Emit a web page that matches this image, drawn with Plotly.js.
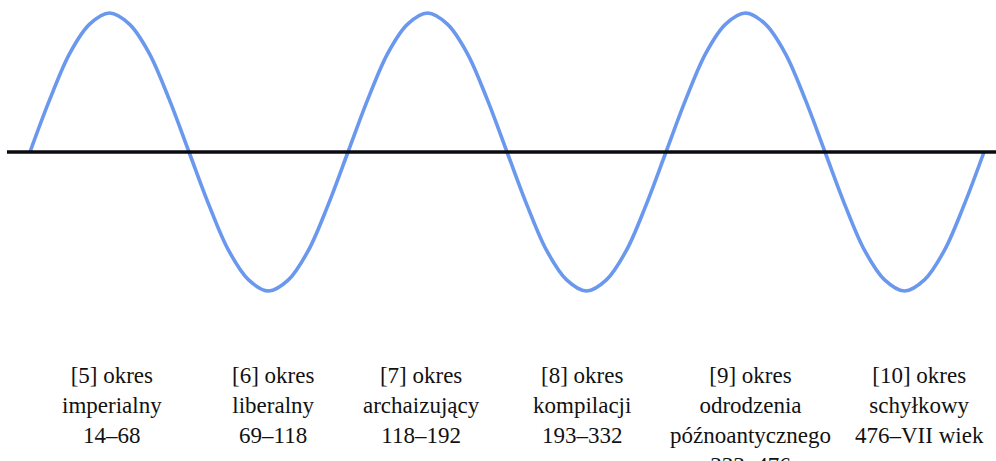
<!DOCTYPE html>
<html>
<head>
<meta charset="utf-8">
<script src="https://cdn.plot.ly/plotly-3.0.1.min.js"></script>
<style>
html,body{margin:0;padding:0;background:#fff;}
#chart{width:996px;height:461px;}
#chart .annotation-text, #chart .annotation-text tspan{font-family:'Liberation Serif' !important;}
</style>
</head>
<body>
<div id="chart"></div>
<script>
// wave sampled every sixteenth of a period (x in quarter-periods)
const waveX = [0,0.25,0.5,0.75,1,1.25,1.5,1.75,2,2.25,2.5,2.75,3,3.25,3.5,3.75,
               4,4.25,4.5,4.75,5,5.25,5.5,5.75,6,6.25,6.5,6.75,7,7.25,7.5,7.75,
               8,8.25,8.5,8.75,9,9.25,9.5,9.75,10,10.25,10.5,10.75,11,11.25,11.5,11.75,12];
const waveY = [0,0.38,0.71,0.92,1,0.92,0.71,0.38,0,-0.38,-0.71,-0.92,-1,-0.92,-0.71,-0.38,
               0,0.38,0.71,0.92,1,0.92,0.71,0.38,0,-0.38,-0.71,-0.92,-1,-0.92,-0.71,-0.38,
               0,0.38,0.71,0.92,1,0.92,0.71,0.38,0,-0.38,-0.71,-0.92,-1,-0.92,-0.71,-0.38,0];
// horizontal base line
const baseX = [-0.29, 12.2];
const baseY = [0, 0];
// period labels
const labelX = [1.03, 3.06, 4.92, 6.94, 9.06, 11.19];
const labelText = [
  "[5] okres<br>imperialny<br>14–68",
  "[6] okres<br>liberalny<br>69–118",
  "[7] okres<br>archaizujący<br>118–192",
  "[8] okres<br>kompilacji<br>193–332",
  "[9] okres<br>odrodzenia<br>późnoantycznego<br>333–476",
  "[10] okres<br>schyłkowy<br>476–VII wiek"
];
const labelY = -1.507;

const W = 996, H = 461;
const x0px = 30, quarterPx = 79.5, centerPx = 152, ampPx = 139;
const xRange = [(0 - x0px)/quarterPx, (W - x0px)/quarterPx];
const yRange = [-(H - centerPx)/ampPx, centerPx/ampPx];

const traces = [
  {x: waveX, y: waveY, type: 'scatter', mode: 'lines',
   line: {color: '#6a98ee', width: 3.6, shape: 'spline', smoothing: 1}},
  {x: baseX, y: baseY, type: 'scatter', mode: 'lines',
   line: {color: '#0a0a10', width: 3.6}}
];

const ann = labelX.map((x, i) => ({
  x: x, y: labelY, xref: 'x', yref: 'y', text: labelText[i],
  showarrow: false, xanchor: 'center', yanchor: 'top', align: 'center',
  font: {family: 'Liberation Serif', size: 23, color: '#111'}
}));

Plotly.newPlot('chart', traces,
  {width: W, height: H, margin: {l: 0, r: 0, t: 0, b: 0},
   xaxis: {range: xRange, visible: false}, yaxis: {range: yRange, visible: false},
   annotations: ann, showlegend: false},
  {displayModeBar: false, staticPlot: true});
</script>
</body>
</html>
